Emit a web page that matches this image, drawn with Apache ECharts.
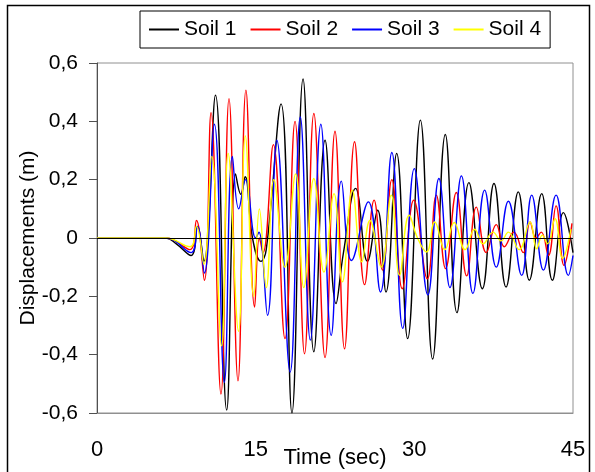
<!DOCTYPE html>
<html>
<head>
<meta charset="utf-8">
<script src="https://cdn.jsdelivr.net/npm/echarts@6/dist/echarts.min.js"></script>
<style>
  html, body { margin: 0; padding: 0; background: #fff; }
  #chart { width: 595px; height: 472px; }
</style>
</head>
<body>
<div id="chart"></div>
<script>
// values (time in s, displacement in m)
const soilNames = ['Soil 1', 'Soil 2', 'Soil 3', 'Soil 4']
const soilColors = ['#000000', '#ff0000', '#0000ff', '#ffff00']
const xTicks = [0, 15, 30, 45]

const time1 = [0, 6.5, 7.5, 8.9, 9.5, 10.1, 11.2, 12.26, 13.1, 13.6, 14.0, 14.7, 15.5, 16.0, 17.4, 18.43, 19.48, 20.5, 21.56, 22.6, 23.3, 24.45, 25.56, 26.53, 27.32, 28.33, 29.37, 30.57, 31.73, 32.93, 34.03, 35.16, 36.43, 37.53, 38.67, 39.83, 40.87, 42.04, 43.05, 44.09, 45]
const soil1 = [0, 0, -0.02, -0.06, 0.04, -0.08, 0.49, -0.59, 0.22, 0.15, 0.21, 0.0, -0.08, -0.04, 0.46, -0.6, 0.545, -0.39, 0.335, -0.225, -0.05, 0.17, -0.08, 0.095, -0.185, 0.29, -0.345, 0.404, -0.415, 0.355, -0.256, 0.19, -0.174, 0.187, -0.168, 0.158, -0.145, 0.152, -0.145, 0.087, -0.05]

const time2 = [0, 6.5, 8.8, 9.4, 10.15, 10.78, 11.72, 12.48, 13.33, 14.08, 14.9, 15.35, 15.7, 16.67, 17.77, 18.72, 19.62, 20.5, 21.56, 22.5, 23.4, 24.35, 25.3, 26.2, 27.0, 27.87, 28.86, 29.95, 31.23, 32.08, 32.96, 33.97, 34.95, 35.86, 36.8, 37.75, 38.5, 39.4, 40.3, 40.94, 41.5, 42.0, 42.67, 43.4, 44.15, 44.9]
const soil2 = [0, 0, -0.04, 0.06, -0.145, 0.43, -0.535, 0.478, -0.49, 0.507, -0.237, 0.0, -0.05, 0.32, -0.345, 0.4, -0.397, 0.427, -0.41, 0.366, -0.38, 0.33, -0.16, 0.13, -0.11, 0.2, -0.174, 0.13, -0.14, 0.147, -0.105, 0.156, -0.13, 0.106, -0.05, 0.046, -0.03, 0.02, -0.05, 0.055, 0.0, 0.02, -0.06, 0.11, -0.094, 0.05]

const time3 = [0, 6.5, 8.9, 9.5, 10.15, 11.1, 12.04, 12.8, 13.4, 14.05, 15.0, 15.3, 16.12, 17.0, 18.26, 19.22, 20.17, 21.16, 22.14, 23.1, 24.06, 25.65, 26.8, 27.87, 28.9, 30.0, 31.28, 32.32, 33.37, 34.45, 35.54, 36.65, 37.75, 38.89, 40.15, 41.1, 42.2, 43.4, 44.56, 45]
const soil3 = [0, 0, -0.05, 0.04, -0.12, 0.39, -0.495, 0.28, 0.1, 0.2, 0.0, 0.02, -0.265, 0.335, -0.46, 0.415, -0.35, 0.39, -0.334, 0.195, -0.077, 0.124, -0.185, 0.293, -0.31, 0.238, -0.195, 0.204, -0.17, 0.213, -0.19, 0.164, -0.1, 0.126, -0.128, 0.147, -0.11, 0.147, -0.128, -0.06]

const time4 = [0, 6.5, 8.8, 9.4, 10.1, 10.85, 11.78, 12.4, 13.38, 14.02, 14.82, 15.35, 16.0, 16.72, 17.77, 18.78, 19.55, 20.5, 21.46, 22.41, 23.2, 24.14, 25.03, 25.8, 26.87, 27.82, 28.6, 29.52, 30.3, 31.15, 31.93, 32.88, 33.77, 34.8, 35.7, 36.5, 37.43, 38.2, 38.89, 39.9, 40.94, 41.57, 42.1, 42.6, 43.3, 44.02, 44.8]
const soil4 = [0, 0, -0.03, 0.04, -0.09, 0.28, -0.37, 0.29, -0.32, 0.35, -0.2, 0.1, -0.17, 0.2, -0.1, 0.22, -0.17, 0.204, -0.117, 0.152, -0.15, 0.164, -0.082, 0.06, -0.1, 0.147, -0.128, 0.078, 0.0, -0.048, 0.055, -0.04, 0.053, -0.04, 0.03, -0.02, 0.02, -0.01, 0.02, -0.04, 0.055, -0.037, 0.01, -0.02, 0.066, -0.07, 0.03]

const times = [time1, time2, time3, time4]
const values = [soil1, soil2, soil3, soil4]

function pairs(t, v) {
  return t.map((x, i) => [x, v[i]])
}

const font = 'Liberation Sans, Arial, sans-serif'
const chart = echarts.init(document.getElementById('chart'), null, { renderer: 'canvas' })

const series = soilNames.map((name, i) => {
  const s = {
    name: name,
    type: 'line',
    data: pairs(times[i], values[i]),
    smooth: 0.45,
    showSymbol: false,
    lineStyle: { color: soilColors[i], width: 1.4 },
    itemStyle: { color: soilColors[i] }
  }
  if (i === 0) {
    // zero line (Excel draws the horizontal axis here)
    s.markLine = {
      silent: true,
      symbol: 'none',
      label: { show: false },
      lineStyle: { color: '#000', width: 1, type: 'solid' },
      data: [{ yAxis: 0 }]
    }
  }
  return s
})

const option = {
  animation: false,
  backgroundColor: '#fff',
  textStyle: { fontFamily: font },
  graphic: [
    {
      type: 'rect',
      shape: { x: 7.5, y: 5.5, width: 582, height: 480 },
      style: { fill: 'none', stroke: '#000', lineWidth: 1.5 },
      silent: true
    }
  ],
  legend: {
    left: 140,
    top: 11,
    padding: [8, 9],
    itemGap: 14,
    itemWidth: 30,
    itemHeight: 2,
    borderColor: '#000',
    borderWidth: 1,
    backgroundColor: '#fff',
    icon: 'rect',
    data: soilNames,
    textStyle: { fontFamily: font, fontSize: 21, color: '#000' }
  },
  grid: {
    left: 97,
    right: 22,
    top: 63,
    bottom: 59,
    containLabel: false,
    outerBoundsMode: 'none',
    show: true,
    borderColor: '#909090',
    borderWidth: 1
  },
  xAxis: {
    type: 'value',
    min: xTicks[0],
    max: xTicks[xTicks.length - 1],
    interval: 15,
    name: 'Time (sec)',
    nameLocation: 'middle',
    nameGap: 34,
    nameMoveOverlap: false,
    nameTextStyle: { fontFamily: font, fontSize: 22, color: '#000' },
    axisLine: { show: true, onZero: false, lineStyle: { color: '#909090' } },
    axisTick: { show: false },
    splitLine: { show: false },
    axisLabel: { margin: 26, fontFamily: font, fontSize: 22, color: '#000' }
  },
  yAxis: {
    type: 'value',
    min: -0.6,
    max: 0.6,
    interval: 0.2,
    name: 'Displacements (m)',
    nameLocation: 'middle',
    nameGap: 58,
    nameMoveOverlap: false,
    nameTextStyle: { fontFamily: font, fontSize: 21, color: '#000' },
    axisLine: { show: true, lineStyle: { color: '#505050' } },
    axisTick: { show: true, length: 8, lineStyle: { color: '#505050' } },
    splitLine: { show: false },
    axisLabel: {
      margin: 19,
      fontFamily: font,
      fontSize: 21,
      color: '#000',
      formatter: function(v) {
        return Math.abs(v) < 1e-9 ? '0' : v.toFixed(1).replace('.', ',')
      }
    }
  },
  series: series
}

chart.setOption(option)
</script>
</body>
</html>
